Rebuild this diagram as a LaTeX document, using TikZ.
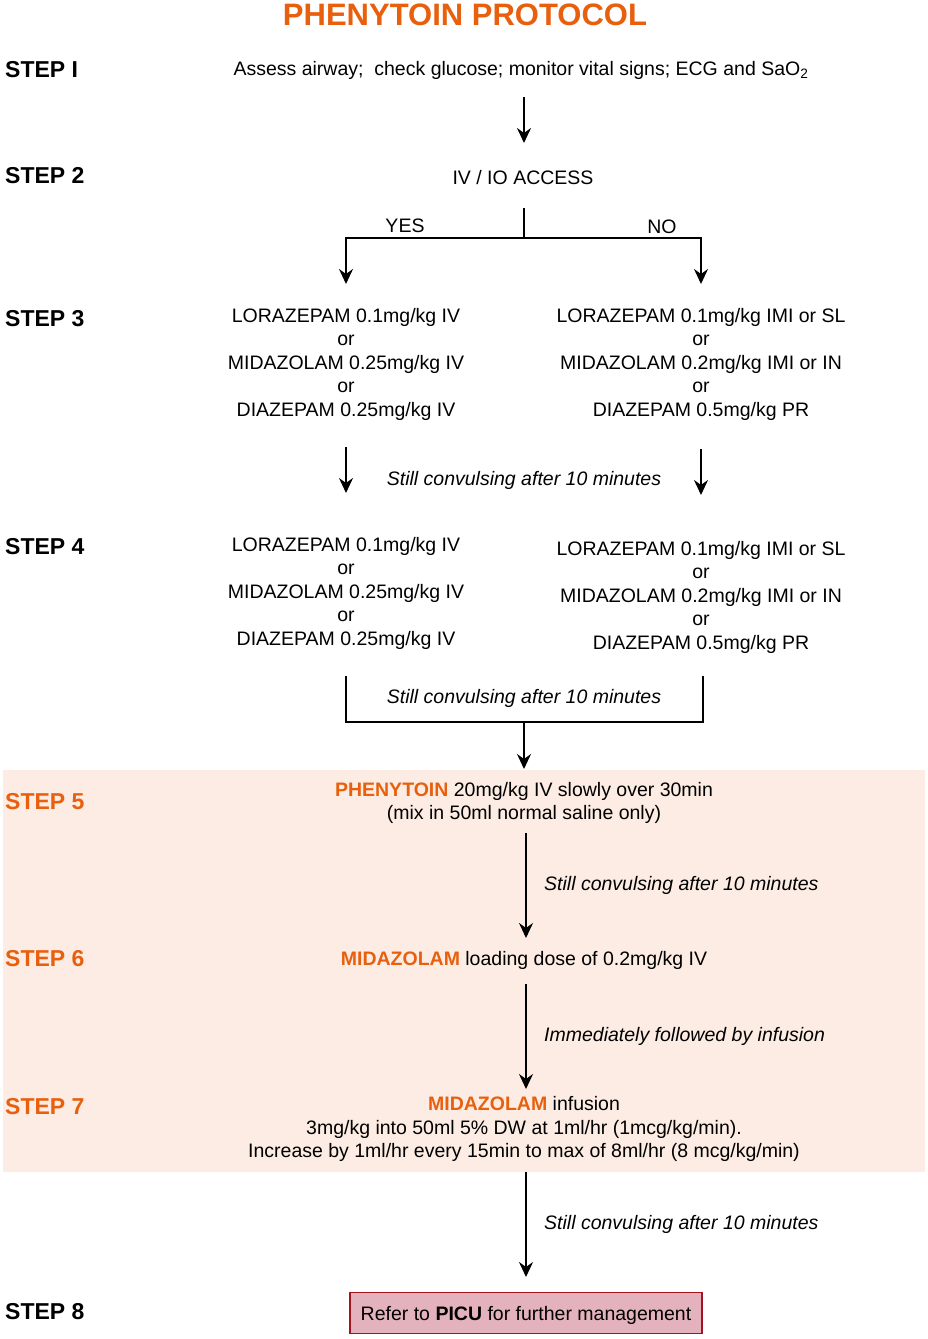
\documentclass[tikz,border=0pt]{standalone}
\usepackage{fontspec}
\setmainfont{Liberation Sans}
\usetikzlibrary{arrows.meta}
\definecolor{org}{RGB}{232,96,14}
\definecolor{bgpink}{RGB}{252,236,227}
\definecolor{boxfill}{RGB}{228,178,188}
\definecolor{boxline}{RGB}{165,20,30}
\begin{document}
\begin{tikzpicture}[x=1pt,y=-1pt,
  txt/.style={font=\fontsize{19.5}{23.5}\selectfont, inner sep=0pt, align=center},
  steplbl/.style={font=\fontsize{23}{27}\selectfont\bfseries, inner sep=0pt, anchor=west},
  ostep/.style={steplbl, text=org},
  lbl/.style={font=\fontsize{19.5}{23.5}\selectfont\itshape, inner sep=0pt},
  arr/.style={line width=1.8pt, -{Stealth[length=15pt,width=14pt,inset=5pt]}},
  ln/.style={line width=1.8pt},
  hl/.style={text=org, font=\bfseries}]
\useasboundingbox (0,0) rectangle (928,1339);
\fill[bgpink] (3,770) rectangle (925,1172);

% title
\node[inner sep=0pt, font=\fontsize{31}{36}\selectfont\bfseries, text=org] (title) at (465,15) {PHENYTOIN PROTOCOL};

% step labels
\node[steplbl] (L1) at (5,70) {STEP I};
\node[steplbl] (L2) at (5,176) {STEP 2};
\node[steplbl] (L3) at (5,319) {STEP 3};
\node[steplbl] (L4) at (5,547) {STEP 4};
\node[ostep] (L5) at (5,802) {STEP 5};
\node[ostep] (L6) at (5,959) {STEP 6};
\node[ostep] (L7) at (5,1107) {STEP 7};
\node[steplbl] (L8) at (5,1312) {STEP 8};

% step 1
\node[txt] (s1) at (521,70) {Assess airway;~ check glucose; monitor vital signs; ECG and SaO\textsubscript{2}};
\coordinate (a1s) at (524,97);
\coordinate (a1e) at (524,143);
\draw[arr] (a1s) -- (a1e);

% step 2
\node[txt] (s2) at (523,178) {IV / IO ACCESS};
\coordinate (b0) at (524,208);
\coordinate (bm) at (524,238);
\coordinate (bl) at (346,238);
\coordinate (br) at (701,238);
\coordinate (ble) at (346,284);
\coordinate (bre) at (701,284);
\draw[ln] (b0) -- (bm);
\draw[arr] (bm) -- (bl) -- (ble);
\draw[arr] (bm) -- (br) -- (bre);
\node[txt] (yes) at (405,226) {YES};
\node[txt] (no) at (662,227) {NO};

% step 3
\node[txt] (s3l) at (346,364) {LORAZEPAM 0.1mg/kg IV\\or\\MIDAZOLAM 0.25mg/kg IV\\or\\DIAZEPAM 0.25mg/kg IV};
\node[txt] (s3r) at (701,364) {LORAZEPAM 0.1mg/kg IMI or SL\\or\\MIDAZOLAM 0.2mg/kg IMI or IN\\or\\DIAZEPAM 0.5mg/kg PR};
\coordinate (c1s) at (346,447);
\coordinate (c1e) at (346,493);
\coordinate (c2s) at (701,449);
\coordinate (c2e) at (701,495);
\draw[arr] (c1s) -- (c1e);
\draw[arr] (c2s) -- (c2e);
\node[lbl] (sc1) at (524,480) {Still convulsing after 10 minutes};

% step 4
\node[txt] (s4l) at (346,593) {LORAZEPAM 0.1mg/kg IV\\or\\MIDAZOLAM 0.25mg/kg IV\\or\\DIAZEPAM 0.25mg/kg IV};
\node[txt] (s4r) at (701,597) {LORAZEPAM 0.1mg/kg IMI or SL\\or\\MIDAZOLAM 0.2mg/kg IMI or IN\\or\\DIAZEPAM 0.5mg/kg PR};
\coordinate (d1) at (346,676);
\coordinate (d2) at (346,722);
\coordinate (d3) at (703,722);
\coordinate (d4) at (703,676);
\coordinate (dm) at (524,722);
\coordinate (de) at (524,769);
\draw[ln] (d1) -- (d2) -- (d3) -- (d4);
\draw[arr] (dm) -- (de);
\node[lbl] (sc2) at (524,698) {Still convulsing after 10 minutes};

% step 5
\node[txt] (s5) at (524,803) {{\color{org}\bfseries PHENYTOIN} 20mg/kg IV slowly over 30min\\(mix in 50ml normal saline only)};
\coordinate (e1) at (526,833);
\coordinate (e2) at (526,938);
\draw[arr] (e1) -- (e2);
\node[lbl, anchor=west] (sc3) at (544,885) {Still convulsing after 10 minutes};

% step 6
\node[txt] (s6) at (524,960) {{\color{org}\bfseries MIDAZOLAM} loading dose of 0.2mg/kg IV};
\coordinate (f1) at (526,984);
\coordinate (f2) at (526,1089);
\draw[arr] (f1) -- (f2);
\node[lbl, anchor=west] (im) at (544,1036) {Immediately followed by infusion};

% step 7
\node[txt] (s7) at (524,1129) {{\color{org}\bfseries MIDAZOLAM} infusion\\3mg/kg into 50ml 5\% DW at 1ml/hr (1mcg/kg/min).\\Increase by 1ml/hr every 15min to max of 8ml/hr (8 mcg/kg/min)};
\coordinate (g1) at (526,1172);
\coordinate (g2) at (526,1277);
\draw[arr] (g1) -- (g2);
\node[lbl, anchor=west] (sc4) at (544,1224) {Still convulsing after 10 minutes};

% step 8
\node[txt, draw=boxline, fill=boxfill, line width=1.6pt, minimum width=352pt, minimum height=41pt, text depth=0pt] (s8) at (526,1313) {Refer to \textbf{PICU} for further management};
\end{tikzpicture}
\end{document}
